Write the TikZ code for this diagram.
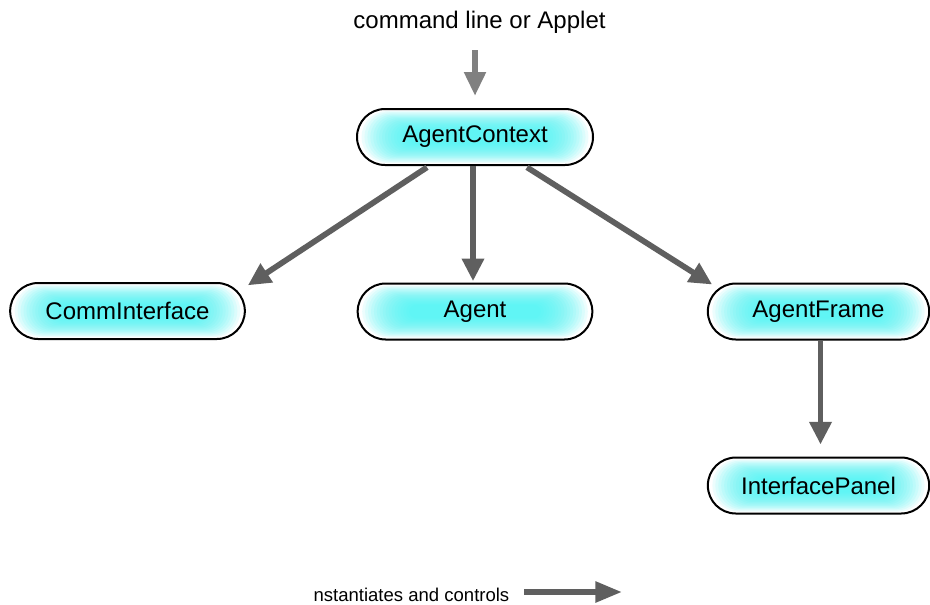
\documentclass[tikz,border=0pt]{standalone}
\usepackage{fontspec}
\setmainfont{Liberation Sans}
\usetikzlibrary{arrows.meta}
\definecolor{glow}{RGB}{70,245,245}
\definecolor{arrdark}{RGB}{95,95,95}
\definecolor{arrlight}{RGB}{128,128,128}
\tikzset{
  pill/.style={draw=black, line width=1.5pt, fill=white, rounded corners=21pt,
    minimum height=42pt, inner sep=0pt, font=\fontsize{18}{21}\selectfont,
    path picture={
      \foreach \i in {1,...,17} {
        \pgfmathsetmacro\dx{1.2+2.2*\i}
        \pgfmathsetmacro\dy{0.6+0.9*\i}
        \pgfmathsetmacro\rc{20.4-0.9*\i}
        \fill[glow, fill opacity=0.1, rounded corners=\rc pt]
          ([xshift=\dx pt,yshift=\dy pt]path picture bounding box.south west)
          rectangle ([xshift=-\dx pt,yshift=-\dy pt]path picture bounding box.north east);
      }
    }},
  conn/.style={draw=arrdark, line width=4.3pt, -{Triangle[length=17pt,width=16pt]}},
  inconn/.style={draw=arrlight, line width=4.6pt, -{Triangle[length=18pt,width=15.5pt]}},
  legconn/.style={draw=arrdark, line width=4.3pt, -{Triangle[length=20pt,width=15pt]}}
}
\begin{document}
\begin{tikzpicture}[x=0.75pt,y=-0.75pt]
\useasboundingbox (0,0) rectangle (930,604);
\node[font=\fontsize{18}{21}\selectfont, anchor=base] (cmd) at (479.5,28) {command line or Applet};
\node[pill, minimum width=177pt] (ac) at (475,137) {AgentContext};
\node[pill, minimum width=176pt] (ci) at (127.5,311) {CommInterface};
\node[pill, minimum width=176pt] (ag) at (475,311.5) {Agent};
\node[pill, minimum width=166pt] (af) at (818.5,311.5) {AgentFrame};
\node[pill, minimum width=166pt] (ip) at (818.5,485.5) {InterfacePanel};
\node[font=\fontsize{13.9}{16}\selectfont, anchor=base east] (leg) at (514,601) {nstantiates and controls};
\coordinate (cmdarr) at (475,50);
\coordinate (l1) at (524,592);
\coordinate (l2) at (622,592);
\draw[inconn] (cmdarr) -- ([yshift=9pt]ac.north);
\draw[conn] ([xshift=-36pt,yshift=-1pt]ac.south) -- ([xshift=1.5pt,yshift=-2.5pt]ci.north east);
\draw[conn] ([xshift=-1.5pt]ac.south) -- ([xshift=-1.5pt,yshift=1pt]ag.north);
\draw[conn] ([xshift=39pt,yshift=-1pt]ac.south) -- ([xshift=4pt,yshift=-1.5pt]af.north west);
\draw[conn] ([xshift=1.5pt]af.south) -- ([xshift=1.5pt,yshift=9pt]ip.north);
\draw[legconn] (l1) -- (l2);
\end{tikzpicture}
\end{document}
